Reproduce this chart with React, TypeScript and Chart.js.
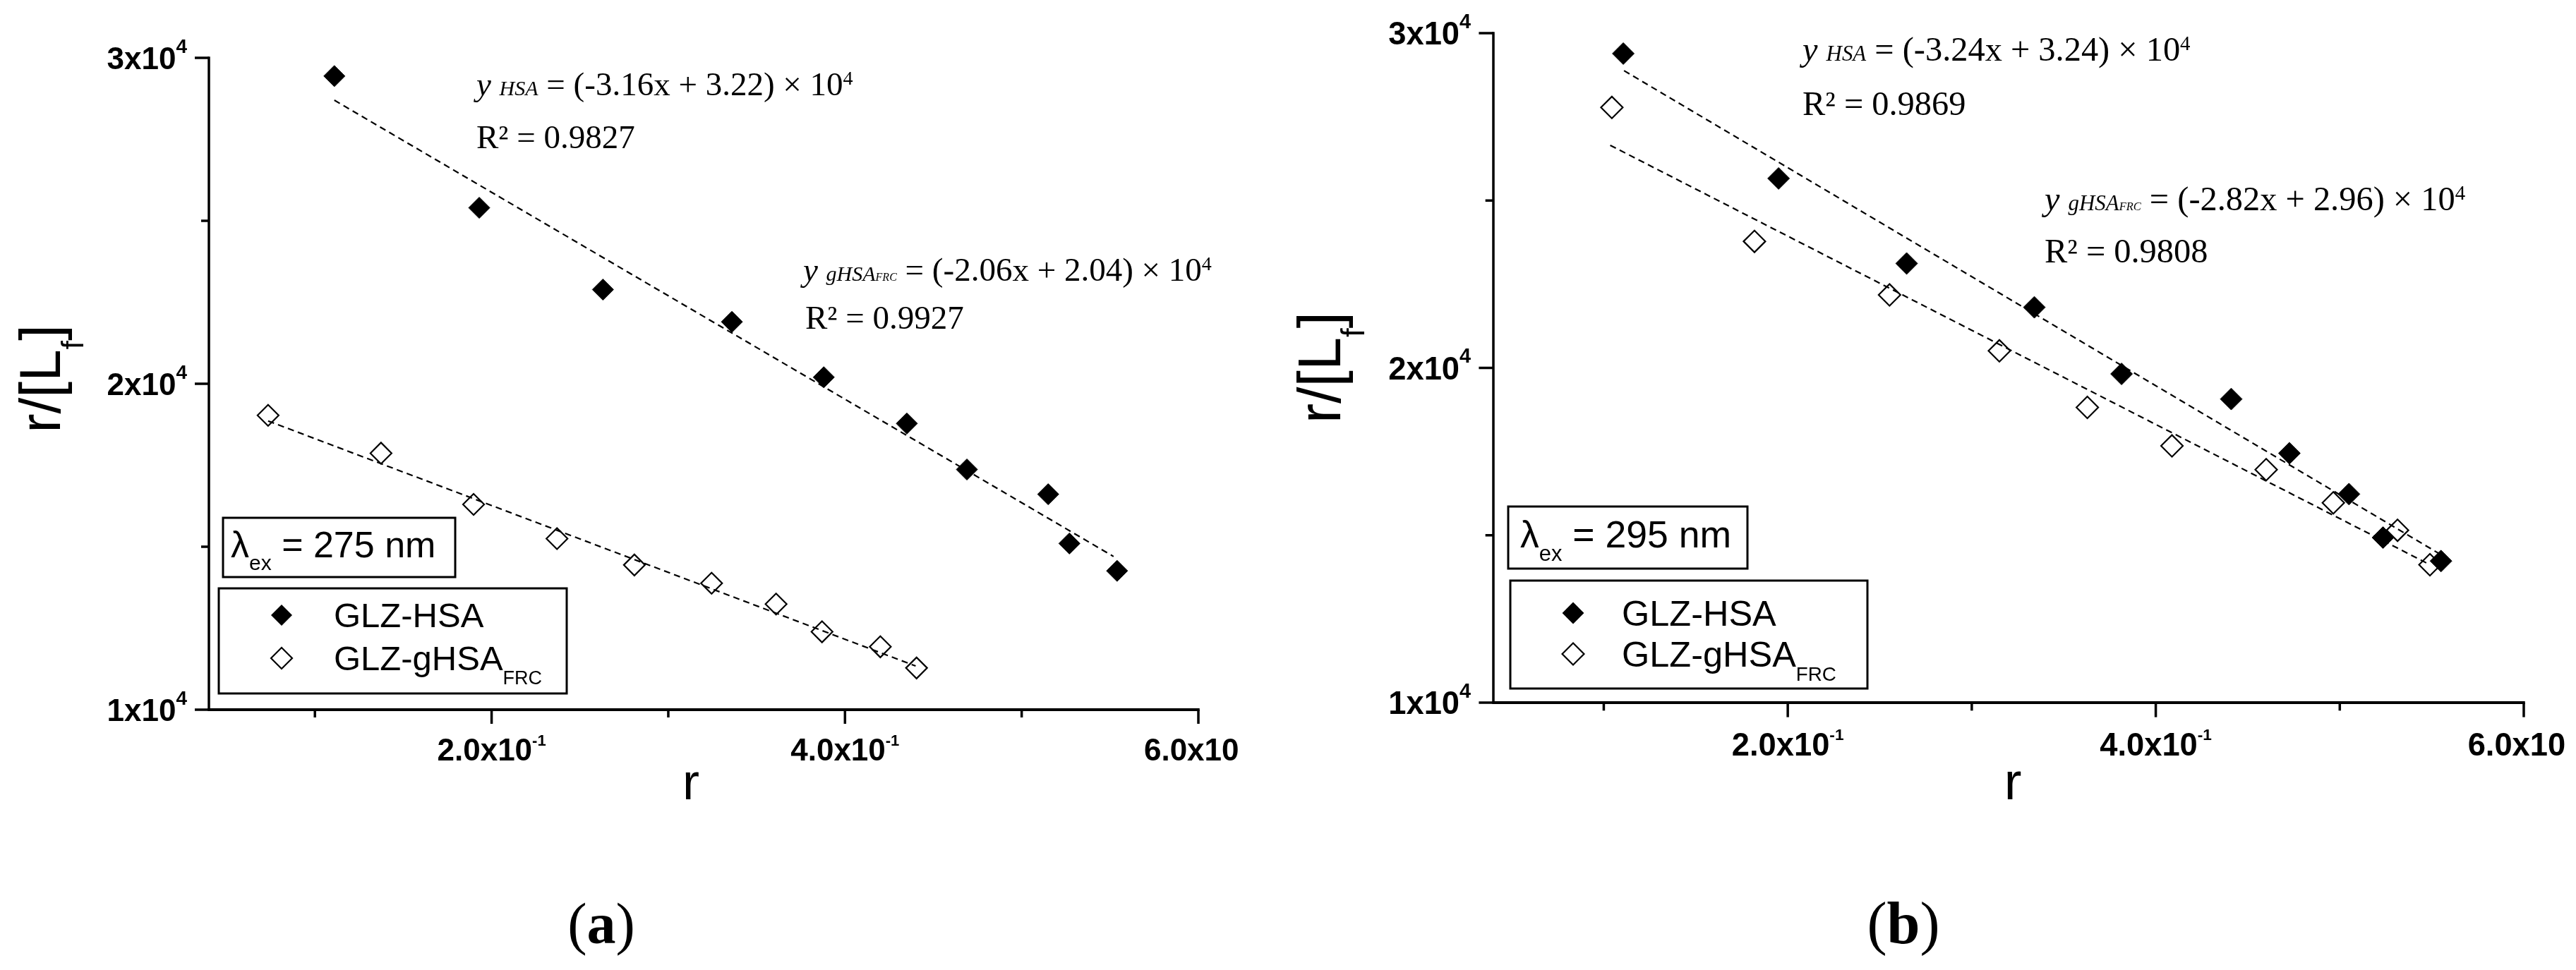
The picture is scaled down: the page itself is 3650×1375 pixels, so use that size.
import React, { useEffect, useRef } from 'react';
import { Chart, registerables } from 'chart.js';

Chart.register(...registerables);

// ---------------- Panel (a): λex = 275 nm ----------------
const rHsaA = [0.111, 0.193, 0.263, 0.336, 0.388, 0.435, 0.469, 0.515, 0.527, 0.554];
const yHsaA = [29440, 25400, 22890, 21900, 20200, 18780, 17370, 16610, 15100, 14260];
const rGhsaA = [0.0735, 0.1374, 0.1898, 0.237, 0.2808, 0.3245, 0.361, 0.387, 0.42, 0.4405];
const yGhsaA = [19030, 17870, 16300, 15250, 14440, 13880, 13240, 12390, 11930, 11280];
const fitHsaRA = [0.111, 0.552];
const fitHsaYA = [28700, 14700];
const fitGhsaRA = [0.0735, 0.44];
const fitGhsaYA = [18860, 11340];
const eqHsaA = ['-3.16', '3.22'];
const eqGhsaA = ['-2.06', '2.04'];
const r2A = ['0.9827', '0.9927'];
const lambdaA = '275';

// ---------------- Panel (b): λex = 295 nm ----------------
const rHsaB = [0.1106, 0.195, 0.2646, 0.334, 0.3814, 0.441, 0.4726, 0.505, 0.5235, 0.555];
const yHsaB = [29390, 25660, 23120, 21810, 19820, 19070, 17450, 16230, 14930, 14230];
const rGhsaB = [0.1044, 0.1819, 0.2553, 0.315, 0.3628, 0.4088, 0.46, 0.4965, 0.5314, 0.549];
const yGhsaB = [27780, 23780, 22180, 20510, 18820, 17670, 16960, 15970, 15150, 14120];
const fitHsaRB = [0.111, 0.555];
const fitHsaYB = [28880, 14420];
const fitGhsaRB = [0.1035, 0.549];
const fitGhsaYB = [26650, 14120];
const eqHsaB = ['-3.24', '3.24'];
const eqGhsaB = ['-2.82', '2.96'];
const r2B = ['0.9869', '0.9808'];
const lambdaB = '295';

// ---------------- Axes ----------------
const X_MIN = 0.04;
const X_MAX = 0.6;
const Y_MIN = 10000;
const Y_MAX = 30000;
const xTickVals = [0.2, 0.4, 0.6];
const xTickMant = ['2.0x10', '4.0x10', '6.0x10'];
const xTickExp = '-1';
const xMinorVals = [0.1, 0.3, 0.5];
const yTickVals = [10000, 20000, 30000];
const yTickMant = ['1x10', '2x10', '3x10'];
const yTickExp = '4';
const yMinorVals = [15000, 25000];
const seriesNames = ['GLZ-HSA', 'GLZ-gHSA'];
const seriesSub = 'FRC';

const SANS = "'Liberation Sans', Arial, Helvetica, sans-serif";
const SERIF = "'Liberation Serif', 'Times New Roman', Times, serif";

type Seg = { t: string; font: string; dy?: number };

function segsWidth(ctx: CanvasRenderingContext2D, segs: Seg[]) {
  let w = 0;
  for (const s of segs) {
    ctx.font = s.font;
    w += ctx.measureText(s.t).width;
  }
  return w;
}

function drawSegs(ctx: CanvasRenderingContext2D, segs: Seg[], x: number, y: number, align: 'left' | 'center' | 'right' = 'left') {
  const w = segsWidth(ctx, segs);
  let cx = align === 'left' ? x : align === 'center' ? x - w / 2 : x - w;
  ctx.textAlign = 'left';
  ctx.textBaseline = 'alphabetic';
  for (const s of segs) {
    ctx.font = s.font;
    ctx.fillText(s.t, cx, y + (s.dy || 0));
    cx += ctx.measureText(s.t).width;
  }
}

function diamond(ctx: CanvasRenderingContext2D, x: number, y: number, r: number, filled: boolean, lw: number) {
  ctx.beginPath();
  ctx.moveTo(x - r, y);
  ctx.lineTo(x, y - r);
  ctx.lineTo(x + r, y);
  ctx.lineTo(x, y + r);
  ctx.closePath();
  if (filled) {
    ctx.fill();
  } else {
    ctx.lineWidth = lw;
    ctx.stroke();
  }
}

type Layout = {
  canvasLeft: number;
  canvasWidth: number;
  pad: { left: number; top: number; right: number; bottom: number };
  k: number;
  eq1: number[];
  r1: number[];
  eq2: number[];
  r2: number[];
  lamBox: number[];
  lamText: number[];
  legBox: number[];
  legMarkX: number;
  legRows: number[];
  legTextX: number;
  xTitle: number[];
  caption: number[];
  yTitle: number[];
  xLabelDy: number;
};

const layoutA: Layout = {
  canvasLeft: 0,
  canvasWidth: 1755,
  pad: { left: 296, top: 82, right: 57, bottom: 369 },
  k: 1,
  eq1: [379, 53],
  r1: [379, 128],
  eq2: [842, 316],
  r2: [845, 384],
  lamBox: [20, 652, 349, 736],
  lamText: [31, 708],
  legBox: [14, 752, 507, 901],
  legMarkX: 103,
  legRows: [790, 851],
  legTextX: 177,
  xTitle: [683, 1051],
  caption: [556, 1255],
  yTitle: [-211, 455],
  xLabelDy: 72,
};

const layoutB: Layout = {
  canvasLeft: 1755,
  canvasWidth: 1879,
  pad: { left: 361, top: 47, right: 58, bottom: 379 },
  k: 1.03,
  eq1: [438, 39],
  r1: [438, 116],
  eq2: [781, 251],
  r2: [781, 325],
  lamBox: [21, 671, 360, 759],
  lamText: [38, 729],
  legBox: [24, 776, 530, 929],
  legMarkX: 113,
  legRows: [822, 880],
  legTextX: 182,
  xTitle: [736, 1086],
  caption: [581, 1290],
  yTitle: [-217, 474],
  xLabelDy: 75,
};

type PanelData = {
  rHsa: number[];
  yHsa: number[];
  rG: number[];
  yG: number[];
  fitHR: number[];
  fitHY: number[];
  fitGR: number[];
  fitGY: number[];
  eqH: string[];
  eqG: string[];
  r2: string[];
  lambda: string;
  letter: string;
};

const panelA: PanelData = {
  rHsa: rHsaA, yHsa: yHsaA, rG: rGhsaA, yG: yGhsaA,
  fitHR: fitHsaRA, fitHY: fitHsaYA, fitGR: fitGhsaRA, fitGY: fitGhsaYA,
  eqH: eqHsaA, eqG: eqGhsaA, r2: r2A, lambda: lambdaA, letter: 'a',
};

const panelB: PanelData = {
  rHsa: rHsaB, yHsa: yHsaB, rG: rGhsaB, yG: yGhsaB,
  fitHR: fitHsaRB, fitHY: fitHsaYB, fitGR: fitGhsaRB, fitGY: fitGhsaYB,
  eqH: eqHsaB, eqG: eqGhsaB, r2: r2B, lambda: lambdaB, letter: 'b',
};

const pts = (xs: number[], ys: number[]) => xs.map((x, i) => ({ x, y: ys[i] }));

function makeOverlay(L: Layout, D: PanelData) {
  return {
    id: 'overlay',
    afterDraw(chart: any) {
      const ctx: CanvasRenderingContext2D = chart.ctx;
      const xs = chart.scales.x;
      const ys = chart.scales.y;
      const k = L.k;
      const ca = chart.chartArea;
      const x0 = xs.getPixelForValue(X_MIN);
      const x1 = xs.getPixelForValue(X_MAX);
      const yB = ys.getPixelForValue(Y_MIN);
      const yT = ys.getPixelForValue(Y_MAX);
      ctx.save();
      ctx.fillStyle = '#000';
      ctx.strokeStyle = '#000';
      ctx.lineCap = 'butt';

      // axis lines
      ctx.lineWidth = 4;
      ctx.beginPath();
      ctx.moveTo(x0 - 1.75, yB);
      ctx.lineTo(x1 + 1.75, yB);
      ctx.stroke();
      ctx.lineWidth = 3.5;
      ctx.beginPath();
      ctx.moveTo(x0, yT - 1.75);
      ctx.lineTo(x0, yB);
      ctx.stroke();

      // ticks
      ctx.lineWidth = 3.5;
      const major = 20 * k;
      const minor = 11 * k;
      for (const v of xTickVals) {
        const p = xs.getPixelForValue(v);
        ctx.beginPath();
        ctx.moveTo(p, yB);
        ctx.lineTo(p, yB + major);
        ctx.stroke();
      }
      for (const v of xMinorVals) {
        const p = xs.getPixelForValue(v);
        ctx.beginPath();
        ctx.moveTo(p, yB);
        ctx.lineTo(p, yB + minor);
        ctx.stroke();
      }
      for (const v of yTickVals) {
        const p = ys.getPixelForValue(v);
        ctx.beginPath();
        ctx.moveTo(x0, p);
        ctx.lineTo(x0 - major, p);
        ctx.stroke();
      }
      for (const v of yMinorVals) {
        const p = ys.getPixelForValue(v);
        ctx.beginPath();
        ctx.moveTo(x0, p);
        ctx.lineTo(x0 - minor, p);
        ctx.stroke();
      }

      // tick labels
      const tickFont = `bold ${44 * k}px ${SANS}`;
      xTickVals.forEach((v, i) => {
        const p = xs.getPixelForValue(v);
        drawSegs(ctx, [
          { t: xTickMant[i], font: tickFont },
          { t: xTickExp, font: `bold ${22 * k}px ${SANS}`, dy: -21 * k },
        ], p, yB + L.xLabelDy, 'center');
      });
      yTickVals.forEach((v, i) => {
        const p = ys.getPixelForValue(v);
        drawSegs(ctx, [
          { t: yTickMant[i], font: tickFont },
          { t: yTickExp, font: `bold ${28 * k}px ${SANS}`, dy: -23 * k },
        ], x0 - 31 * k, p + 16 * k, 'right');
      });

      // axis titles
      drawSegs(ctx, [{ t: 'r', font: `${72 * k}px ${SANS}` }], ca.left + L.xTitle[0], ca.top + L.xTitle[1], 'center');
      ctx.save();
      ctx.translate(ca.left + L.yTitle[0], ca.top + L.yTitle[1]);
      ctx.rotate(-Math.PI / 2);
      drawSegs(ctx, [
        { t: 'r/[L', font: `${82 * k}px ${SANS}` },
        { t: 'f', font: `${44 * k}px ${SANS}`, dy: 33 * k },
        { t: ']', font: `${82 * k}px ${SANS}` },
      ], 0, 0, 'center');
      ctx.restore();

      // regression annotations
      const eqMain = `${47 * k}px ${SERIF}`;
      const eqIt = `italic ${47 * k}px ${SERIF}`;
      const eqSub = `italic ${30 * k}px ${SERIF}`;
      const eqSub2 = `italic ${16 * k}px ${SERIF}`;
      const eqSup = `${28 * k}px ${SERIF}`;
      drawSegs(ctx, [
        { t: 'y ', font: eqIt },
        { t: 'HSA', font: eqSub },
        { t: ` = (${D.eqH[0]}x + ${D.eqH[1]}) \u00d7 10`, font: eqMain },
        { t: '4', font: eqSup, dy: -15 * k },
      ], ca.left + L.eq1[0], ca.top + L.eq1[1]);
      drawSegs(ctx, [{ t: `R\u00b2 = ${D.r2[0]}`, font: eqMain }], ca.left + L.r1[0], ca.top + L.r1[1]);
      drawSegs(ctx, [
        { t: 'y ', font: eqIt },
        { t: 'gHSA', font: eqSub },
        { t: 'FRC', font: eqSub2 },
        { t: ` = (${D.eqG[0]}x + ${D.eqG[1]}) \u00d7 10`, font: eqMain },
        { t: '4', font: eqSup, dy: -15 * k },
      ], ca.left + L.eq2[0], ca.top + L.eq2[1]);
      drawSegs(ctx, [{ t: `R\u00b2 = ${D.r2[1]}`, font: eqMain }], ca.left + L.r2[0], ca.top + L.r2[1]);

      // lambda box
      ctx.lineWidth = 3;
      const lb = L.lamBox;
      ctx.strokeRect(ca.left + lb[0], ca.top + lb[1], lb[2] - lb[0], lb[3] - lb[1]);
      drawSegs(ctx, [
        { t: '\u03bb', font: `${52 * k}px ${SANS}` },
        { t: 'ex', font: `${30 * k}px ${SANS}`, dy: 18 * k },
        { t: ` = ${D.lambda} nm`, font: `${52 * k}px ${SANS}` },
      ], ca.left + L.lamText[0], ca.top + L.lamText[1]);

      // legend box
      const gb = L.legBox;
      ctx.lineWidth = 3;
      ctx.strokeRect(ca.left + gb[0], ca.top + gb[1], gb[2] - gb[0], gb[3] - gb[1]);
      const legFont = `${49 * k}px ${SANS}`;
      diamond(ctx, ca.left + L.legMarkX, ca.top + L.legRows[0], 15 * k, true, 2);
      diamond(ctx, ca.left + L.legMarkX, ca.top + L.legRows[1], 15 * k, false, 2.2);
      drawSegs(ctx, [{ t: seriesNames[0], font: legFont }], ca.left + L.legTextX, ca.top + L.legRows[0] + 17 * k);
      drawSegs(ctx, [
        { t: seriesNames[1], font: legFont },
        { t: seriesSub, font: `${27 * k}px ${SANS}`, dy: 20 * k },
      ], ca.left + L.legTextX, ca.top + L.legRows[1] + 17 * k);

      // caption
      drawSegs(ctx, [
        { t: '(', font: `${82 * k}px ${SERIF}` },
        { t: D.letter, font: `bold ${82 * k}px ${SERIF}` },
        { t: ')', font: `${82 * k}px ${SERIF}` },
      ], ca.left + L.caption[0], ca.top + L.caption[1], 'center');

      ctx.restore();
    },
  };
}

function Panel({ L, D }: { L: Layout; D: PanelData }) {
  const ref = useRef<HTMLCanvasElement>(null);
  useEffect(() => {
    if (!ref.current) return;
    const k = L.k;
    const chart = new Chart(ref.current, {
      type: 'scatter',
      data: {
        datasets: [
          {
            label: seriesNames[0],
            data: pts(D.rHsa, D.yHsa),
            pointStyle: 'rectRot',
            pointRadius: 15 * k,
            pointBackgroundColor: '#000',
            pointBorderColor: '#000',
            pointBorderWidth: 1,
            showLine: false,
          },
          {
            label: seriesNames[1] + seriesSub,
            data: pts(D.rG, D.yG),
            pointStyle: 'rectRot',
            pointRadius: 15 * k,
            pointBackgroundColor: 'rgba(0,0,0,0)',
            pointBorderColor: '#000',
            pointBorderWidth: 2.2,
            showLine: false,
          },
          {
            label: 'fit HSA',
            data: pts(D.fitHR, D.fitHY),
            showLine: true,
            pointRadius: 0,
            borderColor: '#000',
            borderWidth: 2.2,
            borderDash: [9, 6],
            fill: false,
          },
          {
            label: 'fit gHSA',
            data: pts(D.fitGR, D.fitGY),
            showLine: true,
            pointRadius: 0,
            borderColor: '#000',
            borderWidth: 2.2,
            borderDash: [9, 6],
            fill: false,
          },
        ] as any,
      },
      options: {
        animation: false,
        responsive: false,
        maintainAspectRatio: false,
        devicePixelRatio: 1,
        events: [],
        layout: { padding: L.pad },
        plugins: {
          legend: { display: false },
          tooltip: { enabled: false },
          title: { display: false },
        },
        scales: {
          x: { type: 'linear', min: X_MIN, max: X_MAX, display: false },
          y: { type: 'linear', min: Y_MIN, max: Y_MAX, display: false },
        },
        datasets: { scatter: { clip: false } as any },
      } as any,
      plugins: [makeOverlay(L, D)],
    });
    return () => chart.destroy();
  }, []);
  return (
    <canvas
      ref={ref}
      width={L.canvasWidth}
      height={1375}
      style={{ position: 'absolute', left: L.canvasLeft, top: 0, width: L.canvasWidth, height: 1375 }}
    />
  );
}

export default function App() {
  return (
    <div style={{ position: 'absolute', left: 0, top: 0, width: 3650, height: 1375, background: '#fff', overflow: 'hidden' }}>
      <Panel L={layoutA} D={panelA} />
      <Panel L={layoutB} D={panelB} />
    </div>
  );
}
